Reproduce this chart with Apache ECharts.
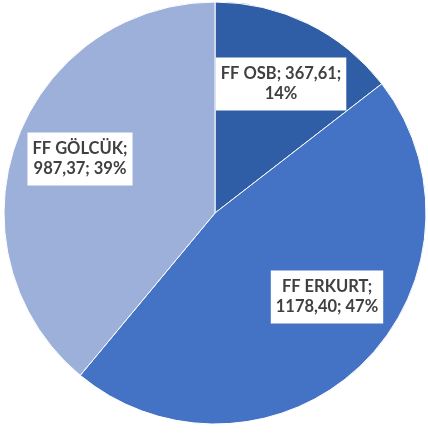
<!DOCTYPE html>
<html>
<head>
<meta charset="utf-8">
<script src="https://cdn.jsdelivr.net/npm/echarts@6/dist/echarts.min.js"></script>
<style>html,body{margin:0;padding:0;background:#fff}#c{width:428px;height:441px}</style>
</head>
<body>
<div id="c"></div>
<script>
var categories = ['FF OSB', 'FF ERKURT', 'FF GÖLCÜK'];
var values = [367.61, 1178.40, 987.37];
var percentLabels = ['14%', '47%', '39%'];
var valueLabels = ['367,61', '1178,40', '987,37'];

var colors = ['#2F5EA6', '#4472C4', '#9CB0D9'];
var labelCenters = [[281, 84], [327, 297], [80, 159]];
var labelBreaks = [
  function (i) { return categories[i] + '; ' + valueLabels[i] + ';\n' + percentLabels[i]; },
  function (i) { return categories[i] + ';\n' + valueLabels[i] + '; ' + percentLabels[i]; },
  function (i) { return categories[i] + ';\n' + valueLabels[i] + '; ' + percentLabels[i]; }
];

var data = categories.map(function (c, i) {
  return { name: c, value: values[i], itemStyle: { color: colors[i] } };
});

var chart = echarts.init(document.getElementById('c'), null, { renderer: 'canvas' });
chart.setOption({
  animation: false,
  backgroundColor: '#ffffff',
  series: [{
    type: 'pie',
    center: [215, 213],
    radius: [0, 211],
    startAngle: 90,
    clockwise: true,
    data: data,
    itemStyle: { borderColor: '#ffffff', borderWidth: 1 },
    label: {
      show: true,
      position: 'inside',
      formatter: function (p) { return labelBreaks[p.dataIndex](p.dataIndex); },
      fontFamily: 'Lato',
      fontWeight: 'bold',
      fontSize: 16.5,
      lineHeight: 20,
      color: '#404040',
      backgroundColor: '#ffffff',
      padding: [7, 5, 6, 5],
      align: 'center',
      verticalAlign: 'middle'
    },
    labelLine: { show: false },
    labelLayout: function (p) {
      var c = labelCenters[p.dataIndex];
      return { x: c[0], y: c[1] };
    },
    emphasis: { disabled: true }
  }]
});
</script>
</body>
</html>
